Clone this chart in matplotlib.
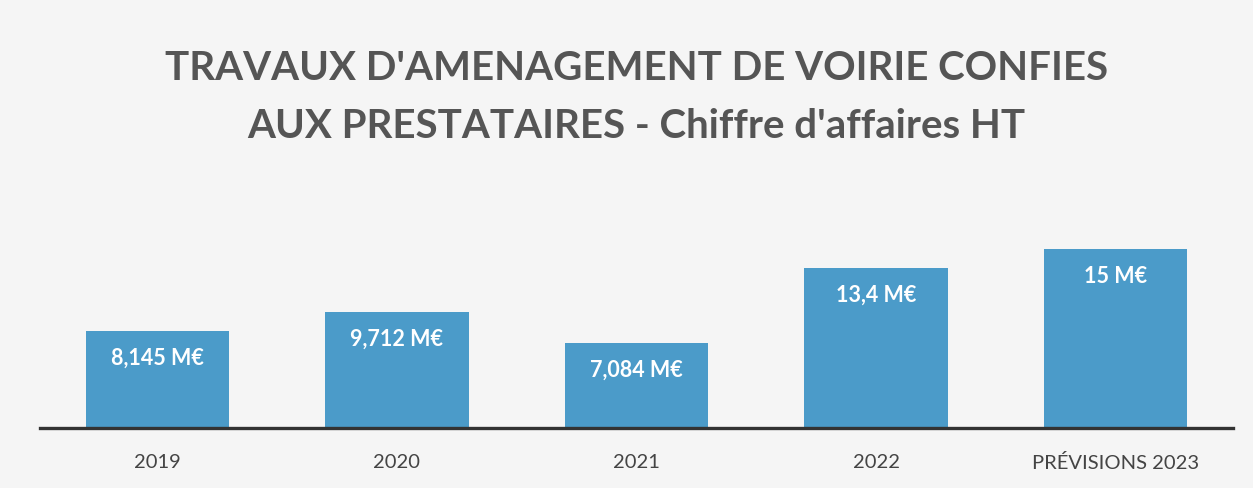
import matplotlib.pyplot as plt

# data
categories = ["2019", "2020", "2021", "2022", "PRÉVISIONS 2023"]
values = [8.145, 9.712, 7.084, 13.4, 15]
value_labels = ["8,145 M€", "9,712 M€", "7,084 M€", "13,4 M€", "15 M€"]
title_lines = ["TRAVAUX D'AMENAGEMENT DE VOIRIE CONFIES",
               "AUX PRESTATAIRES - Chiffre d'affaires HT"]

plt.rcParams['font.family'] = ['Lato', 'DejaVu Sans']

fig = plt.figure(figsize=(12.53, 4.88), dpi=100)
fig.patch.set_facecolor("#f5f5f5")

ax = fig.add_axes([0.032, 0.123, 0.952, 0.391])
ax.set_facecolor("none")

x = range(len(categories))
ax.bar(x, values, width=0.6, color="#4b9bc9", zorder=2)

for i in x:
    ax.annotate(value_labels[i], (i, values[i]), xytext=(0, -27),
                textcoords="offset pixels", ha="center", va="center",
                color="white", fontsize=15.5, fontweight="bold", zorder=3)

ax.set_xlim(-0.49, 4.49)
ax.set_ylim(0, 16)
ax.set_xticks(list(x))
ax.set_xticklabels(categories, fontsize=14.5, color="#444444")
ax.tick_params(axis="x", length=0, pad=19)
ax.set_yticks([])
for side in ["top", "left", "right"]:
    ax.spines[side].set_visible(False)
ax.spines["bottom"].set_linewidth(2.4)
ax.spines["bottom"].set_color("#333333")
ax.spines["bottom"].set_zorder(4)

fig.text(0.508, 1 - 68 / 488, title_lines[0], ha="center", va="center",
         fontsize=29, fontweight="bold", color="#555555")
fig.text(0.508, 1 - 127 / 488, title_lines[1], ha="center", va="center",
         fontsize=29, fontweight="bold", color="#555555")

plt.savefig("out.png", dpi=100, facecolor=fig.get_facecolor())
plt.close()
